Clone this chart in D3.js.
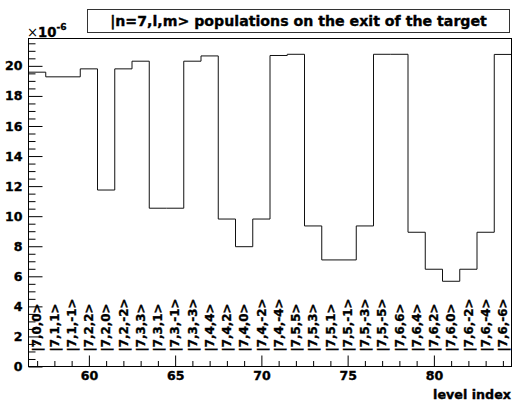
<!DOCTYPE html>
<html>
<head>
<meta charset="utf-8">
<script src="https://cdn.jsdelivr.net/npm/d3@7"></script>
<style>
  html, body { margin: 0; padding: 0; background: #fff; }
  svg { display: block; }
  text { font-family: "DejaVu Sans", "Liberation Sans", Arial, sans-serif; font-weight: bold; fill: #000;
         stroke: #000; stroke-width: 0.35px; }
</style>
</head>
<body>
<svg id="chart" width="513" height="401"></svg>
<script>
// ---- data ----
const levelIndex = [57,58,59,60,61,62,63,64,65,66,67,68,69,70,71,72,73,74,75,76,77,78,79,80,81,82,83,84];
const binLabels = ["|7,0,0>","|7,1,1>","|7,1,-1>","|7,2,2>","|7,2,0>","|7,2,-2>",
  "|7,3,3>","|7,3,1>","|7,3,-1>","|7,3,-3>",
  "|7,4,4>","|7,4,2>","|7,4,0>","|7,4,-2>","|7,4,-4>",
  "|7,5,5>","|7,5,3>","|7,5,1>","|7,5,-1>","|7,5,-3>","|7,5,-5>",
  "|7,6,6>","|7,6,4>","|7,6,2>","|7,6,0>","|7,6,-2>","|7,6,-4>","|7,6,-6>"];
const populations = [19.58,19.27,19.27,19.80,11.74,19.80,20.31,10.53,10.53,20.31,20.66,
  9.81,7.97,9.81,20.69,20.77,9.35,7.09,7.09,9.35,20.77,20.77,8.93,6.47,5.67,6.47,8.93,20.76];
const xMajorTicks = [60,65,70,75,80];
const yMajorTicks = [0,2,4,6,8,10,12,14,16,18,20];
const xDomain = [56.5, 84.5];
const yDomain = [0, 21.82];
const titleText = "|n=7,l,m> populations on the exit of the target";
const xTitle = "level index";

// ---- layout ----
const svg = d3.select("#chart");
const L = 28.5, R = 511.5, T = 38.5, B = 366.5;
const x = d3.scaleLinear().domain(xDomain).range([L, R]);
const y = d3.scaleLinear().domain(yDomain).range([B, T]);

// font size that makes a string reach a given width
function fitSize(str, width) {
  const t = svg.append("text").attr("font-size", 100).style("stroke", "none").text(str);
  const w = t.node().getComputedTextLength();
  t.remove();
  return 100 * width / w;
}
const fsTick = fitSize("60", 17.5);
const fsBin = fitSize("|7,0,0>", 48);
const fsTitle = fitSize(titleText, 377);
const fsXTitle = fitSize(xTitle, 78);

svg.insert("rect", ":first-child").attr("width", 513).attr("height", 401).attr("fill", "#fff");

// histogram outline
const pts = [];
levelIndex.forEach((c, i) => {
  pts.push([x(c - 0.5), y(populations[i])]);
  pts.push([x(c + 0.5), y(populations[i])]);
});
svg.append("path")
  .attr("d", d3.line()(pts))
  .attr("fill", "none")
  .attr("stroke", "#111")
  .attr("stroke-width", 1);

// bin labels
svg.append("g").selectAll("text")
  .data(levelIndex)
  .join("text")
  .attr("transform", (d) => `translate(${x(d)},351.5) rotate(-90)`)
  .attr("dy", "0.36em")
  .attr("font-size", fsBin)
  .text((d, i) => binLabels[i]);

// y axis
const yMinor = d3.range(0, 21.6, 0.5).filter(v => Math.abs(v / 2 - Math.round(v / 2)) > 1e-6);
const yAxisMinor = svg.append("g").attr("transform", `translate(${L},0)`)
  .call(d3.axisLeft(y).tickValues(yMinor).tickSize(-7).tickFormat(""));
const yAxis = svg.append("g").attr("transform", `translate(${L},0)`)
  .call(d3.axisLeft(y).tickValues(yMajorTicks).tickSize(-14).tickPadding(6).tickFormat(d3.format("d")));

// x axis
const xMinor = levelIndex.filter(v => !xMajorTicks.includes(v));
const xAxisMinor = svg.append("g").attr("transform", `translate(0,${B})`)
  .call(d3.axisBottom(x).tickValues(xMinor).tickSize(-5.5).tickFormat(""));
const xAxis = svg.append("g").attr("transform", `translate(0,${B})`)
  .call(d3.axisBottom(x).tickValues(xMajorTicks).tickSize(-11).tickPadding(5).tickFormat(d3.format("d")));

[yAxisMinor, yAxis, xAxisMinor, xAxis].forEach(g => {
  g.attr("font-family", null).attr("font-size", null);
  g.select(".domain").remove();
  g.selectAll("line").attr("stroke", "#000");
  g.selectAll("text").attr("font-size", fsTick).attr("fill", "#000");
});

// frame
svg.append("rect")
  .attr("x", L).attr("y", T).attr("width", R - L).attr("height", B - T)
  .attr("fill", "none").attr("stroke", "#000").attr("stroke-width", 1);

// exponent label
const ex = svg.append("text").attr("x", 27).attr("y", 36.5).attr("font-size", fsTick * 1.05);
ex.append("tspan").style("font-weight", "normal").style("stroke", "none").text("\u00d7");
ex.append("tspan").text("10");
ex.append("tspan").attr("font-size", fsTick * 0.72).attr("dy", -7).text("-6");

// x axis title
svg.append("text").attr("x", 511).attr("y", 399).attr("text-anchor", "end")
  .attr("font-size", fsXTitle).text(xTitle);

// title box
svg.append("rect").attr("x", 87.5).attr("y", 9.5).attr("width", 422).attr("height", 23)
  .attr("fill", "#fff").attr("stroke", "#333").attr("stroke-width", 1);
svg.append("text").attr("x", 298.5).attr("y", 26).attr("text-anchor", "middle")
  .attr("font-size", fsTitle).text(titleText);
</script>
</body>
</html>
